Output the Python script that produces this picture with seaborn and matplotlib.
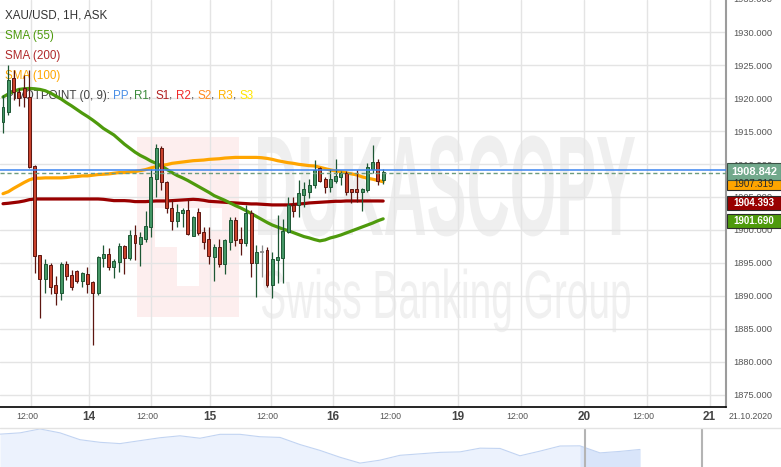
import numpy as np
import pandas as pd
import seaborn as sns
import matplotlib
matplotlib.use("Agg")
import matplotlib.pyplot as plt
from matplotlib.patches import Rectangle, PathPatch
from matplotlib.lines import Line2D
from matplotlib.textpath import TextPath
from matplotlib.font_manager import FontProperties
from matplotlib.transforms import Affine2D, blended_transform_factory
from matplotlib.ticker import FormatStrFormatter

W, H = 781, 467

# hourly XAU/USD candles, 13.10 -> 16.10.2020
opens = [1916.4, 1917.9, 1923.0, 1920.9, 1921.5, 1920.2, 1909.7, 1896.2, 1892.5, 1894.7,
         1891.7, 1890.5, 1894.8, 1893.2, 1893.8, 1892.2, 1893.4, 1892.1, 1890.4, 1895.7,
         1896.4, 1894.4, 1895.2, 1897.6, 1895.7, 1899.2, 1897.9, 1898.7, 1900.5, 1907.7,
         1912.5, 1907.3, 1903.4, 1901.3, 1902.6, 1903.0, 1899.1, 1902.7, 1899.65, 1898.6,
         1895.9, 1897.4, 1894.85, 1898.2, 1901.5, 1898.7, 1898.1, 1902.5, 1894.95, 1896.7,
         1897.0, 1891.7, 1895.45, 1895.7, 1899.75, 1903.8, 1903.8, 1905.3, 1905.8, 1906.8,
         1909.35, 1907.7, 1906.5, 1907.5, 1908.0, 1908.6, 1906.2, 1906.2, 1905.8, 1906.1,
         1909.3, 1910.3, 1907.6]
highs = [1920.4, 1925.0, 1924.2, 1921.5, 1923.5, 1924.2, 1909.8, 1896.2, 1895.6, 1895.0,
         1893.1, 1895.2, 1895.3, 1893.9, 1893.9, 1893.7, 1894.4, 1892.2, 1896.0, 1897.8,
         1897.2, 1895.6, 1898.0, 1897.7, 1900.0, 1900.8, 1899.7, 1902.9, 1909.3, 1913.0,
         1912.7, 1907.4, 1904.5, 1904.0, 1903.4, 1904.65, 1902.1, 1903.3, 1900.5, 1900.4,
         1897.9, 1898.6, 1898.7, 1902.0, 1902.0, 1900.5, 1903.8, 1903.0, 1897.7, 1897.7,
         1897.4, 1896.7, 1902.3, 1901.6, 1905.05, 1905.05, 1907.6, 1907.3, 1907.8, 1910.6,
         1909.5, 1908.1, 1909.2, 1910.7, 1909.0, 1909.0, 1906.2, 1909.1, 1906.3, 1910.2,
         1912.9, 1910.7, 1909.2]
lows = [1914.7, 1917.5, 1919.7, 1918.8, 1918.6, 1909.4, 1893.5, 1886.6, 1890.4, 1890.3,
        1888.7, 1889.4, 1892.4, 1890.9, 1891.9, 1891.4, 1890.4, 1882.6, 1890.2, 1894.4,
        1894.0, 1892.8, 1893.7, 1893.3, 1895.5, 1895.5, 1894.5, 1898.2, 1899.0, 1905.05,
        1906.1, 1902.5, 1900.0, 1900.5, 1900.5, 1899.2, 1899.1, 1899.2, 1897.1, 1894.85,
        1892.2, 1894.4, 1893.3, 1897.0, 1897.6, 1896.2, 1897.5, 1892.9, 1889.9, 1892.9,
        1891.4, 1889.65, 1891.9, 1891.9, 1899.5, 1902.0, 1901.9, 1903.5, 1904.8, 1906.3,
        1907.2, 1905.55, 1905.8, 1907.1, 1906.8, 1905.3, 1904.1, 1904.3, 1902.9, 1905.8,
        1908.7, 1906.8, 1906.9]
closes = [1918.7, 1922.7, 1920.9, 1920.0, 1920.2, 1909.6, 1896.0, 1892.5, 1894.8, 1891.4,
          1890.5, 1894.85, 1893.0, 1891.4, 1892.2, 1893.5, 1891.8, 1890.4, 1895.9, 1896.4,
          1894.4, 1895.3, 1897.6, 1895.7, 1899.2, 1898.1, 1899.0, 1900.6, 1908.0, 1912.5,
          1907.2, 1903.3, 1901.4, 1902.8, 1903.0, 1899.35, 1902.0, 1899.5, 1898.2, 1896.0,
          1897.4, 1894.85, 1898.5, 1901.5, 1898.5, 1898.1, 1902.5, 1894.95, 1896.7, 1896.7,
          1891.7, 1895.55, 1895.95, 1899.85, 1903.8, 1902.9, 1905.55, 1906.2, 1906.8, 1909.1,
          1907.5, 1906.5, 1907.7, 1908.2, 1908.6, 1905.8, 1905.8, 1905.8, 1906.2, 1909.5,
          1910.3, 1907.5, 1908.84]

sma55 = [1920.15, 1920.6, 1921.0, 1921.3, 1921.4, 1921.45, 1921.4, 1921.3, 1921.1, 1920.75,
         1920.3, 1919.85, 1919.3, 1918.8, 1918.25, 1917.7, 1917.2, 1916.65, 1916.05, 1915.4,
         1914.9, 1914.4, 1913.7, 1913.0, 1912.4, 1911.8, 1911.3, 1910.9, 1910.45, 1910.1,
         1909.7, 1909.2, 1908.7, 1908.25, 1907.9, 1907.5, 1907.05, 1906.6, 1906.15, 1905.7,
         1905.2, 1904.85, 1904.5, 1904.1, 1903.7, 1903.35, 1902.95, 1902.5, 1902.05, 1901.6,
         1901.15, 1900.75, 1900.45, 1900.15, 1899.9, 1899.6, 1899.3, 1899.0, 1898.8, 1898.55,
         1898.35, 1898.5, 1898.8, 1899.0, 1899.25, 1899.55, 1899.85, 1900.15, 1900.45, 1900.75,
         1901.05, 1901.4, 1901.69]
sma100 = [1905.5, 1905.8, 1906.3, 1906.75, 1907.2, 1907.6, 1907.85, 1907.85, 1907.9, 1907.9,
          1907.9, 1907.9, 1907.95, 1908.05, 1908.1, 1908.2, 1908.2, 1908.3, 1908.4, 1908.45,
          1908.5, 1908.6, 1908.7, 1908.7, 1908.8, 1908.85, 1909.0, 1909.15, 1909.4, 1909.6,
          1909.8, 1909.9, 1910.1, 1910.2, 1910.3, 1910.4, 1910.5, 1910.55, 1910.6, 1910.7,
          1910.75, 1910.8, 1910.9, 1910.95, 1911.0, 1911.0, 1911.0, 1911.0, 1911.0, 1910.95,
          1910.85, 1910.7, 1910.5, 1910.35, 1910.2, 1910.1, 1909.95, 1909.85, 1909.75, 1909.7,
          1909.5, 1909.3, 1909.1, 1908.95, 1908.85, 1908.65, 1908.5, 1908.35, 1908.05, 1907.85,
          1907.7, 1907.5, 1907.32]
sma200 = [1903.98, 1904.05, 1904.15, 1904.25, 1904.4, 1904.6, 1904.7, 1904.7, 1904.7, 1904.7,
          1904.7, 1904.7, 1904.7, 1904.7, 1904.7, 1904.7, 1904.7, 1904.7, 1904.7, 1904.65,
          1904.55, 1904.45, 1904.45, 1904.45, 1904.4, 1904.3, 1904.3, 1904.3, 1904.35, 1904.4,
          1904.4, 1904.4, 1904.45, 1904.5, 1904.55, 1904.6, 1904.65, 1904.6, 1904.5, 1904.35,
          1904.3, 1904.25, 1904.2, 1904.15, 1904.1, 1904.05, 1904.0, 1903.95, 1903.95, 1903.9,
          1903.85, 1903.8, 1903.8, 1903.8, 1903.8, 1903.85, 1903.95, 1904.0, 1904.1, 1904.15,
          1904.2, 1904.25, 1904.3, 1904.35, 1904.35, 1904.4, 1904.4, 1904.4, 1904.4, 1904.4,
          1904.4, 1904.4, 1904.39]

pivot_pp = 1909.1
ask_line = 1908.7

# price tags on the right axis: value, fill, text colour, weight
tags = [(1901.690, "#4e9a0c", "white", "bold"),
        (1904.393, "#990000", "white", "bold"),
        (1907.319, "#ffa500", "#2a2a2a", "normal"),
        (1908.842, "#72a98c", "white", "bold")]

# x axis: candle-index positions of the time grid
tick_pos = [5.30, 16.21, 28.03, 39.15, 50.76, 62.44, 74.05, 86.12, 98.11, 109.98, 121.97, 133.84]
tick_labels = ["12:00", "14", "12:00", "15", "12:00", "16", "12:00", "19", "12:00", "20", "12:00", "21"]
y_ticks = [1875, 1880, 1885, 1890, 1895, 1900, 1905, 1910, 1915, 1920, 1925, 1930]

# navigator (overview) strip
nav_vals = [1929.1, 1931.8, 1940.0, 1931.8, 1917.4, 1911.9, 1909.2, 1915.4, 1921.5, 1925.6,
            1920.5, 1928.7, 1928.7, 1923.6, 1922.2, 1907.2, 1894.9, 1880.5, 1868.2, 1874.4,
            1884.6, 1887.7, 1890.8, 1891.8, 1899.6, 1899.0, 1883.6, 1893.4, 1904.1, 1904.5,
            1889.7, 1892.8, 1896.9]

sns.set_theme(style="white")
plt.rcParams["font.family"] = ["Liberation Sans", "DejaVu Sans"]

fig = plt.figure(figsize=(W / 100, H / 100), dpi=100)
fig.patch.set_facecolor("white")
ax = fig.add_axes([0, 60 / H, 726 / W, 407 / H])
nav = fig.add_axes([0, 0, 1, 39 / H])

# transform for screen pixels measured from the top-left corner
pxT = Affine2D().scale(1 / W, -1 / H).translate(0, 1) + fig.transFigure

df = pd.DataFrame({"i": np.arange(len(opens)), "open": opens, "high": highs,
                   "low": lows, "close": closes,
                   "sma55": sma55, "sma100": sma100, "sma200": sma200})

ax.set_xlim(-0.57, 136.93)
ax.set_ylim(1873.18, 1934.85)
ax.set_facecolor("white")

# --- watermark -------------------------------------------------------
pink = "#fdeeee"
ax.add_patch(Rectangle((137, 137), 102, 180, transform=pxT, color=pink, lw=0, zorder=0.1))
for (x0, y0, w, h) in [(155, 208, 67, 22), (155, 208, 22, 39), (177, 208, 22, 78)]:
    ax.add_patch(Rectangle((x0, y0), w, h, transform=pxT, color="white", lw=0, zorder=0.15))


def squeezed_text(s, x0, base, width, cap, weight, color):
    fp = FontProperties(family="Liberation Sans", weight=weight)
    tp = TextPath((0, 0), s, size=1, prop=fp)
    bb = tp.get_extents()
    caph = TextPath((0, 0), "B", size=1, prop=fp).get_extents().height
    tf = Affine2D().translate(-bb.x0, 0).scale(width / bb.width, -cap / caph).translate(x0, base)
    ax.add_patch(PathPatch(tp, transform=tf + pxT, color=color, lw=0, zorder=0.2))


squeezed_text("DUKASCOPY", 258, 235, 377, 98, "bold", "#efefef")
squeezed_text("Swiss Banking Group", 262, 318, 368, 47, "normal", "#f0f0f0")

# --- grid / axes -------------------------------------------------------
ax.set_xticks(tick_pos)
ax.set_yticks(y_ticks)
ax.grid(True, color="#e4e4e4", lw=1)
ax.set_axisbelow(True)
ax.tick_params(axis="x", length=0, labelbottom=False)
ax.yaxis.tick_right()
ax.yaxis.set_major_formatter(FormatStrFormatter("%.3f"))
ax.tick_params(axis="y", length=0, pad=5, labelsize=6.7, labelcolor="#555555")
for side in ["top", "left"]:
    ax.spines[side].set_visible(False)
ax.spines["right"].set_color("#9c9c9c")
ax.spines["right"].set_linewidth(1.5)
ax.spines["bottom"].set_color("black")
ax.spines["bottom"].set_linewidth(1.2)

# --- legend texts (under the candles) ---------------------------------
leg_fs = 8.4
ax.text(5, 15.5, "XAU/USD, 1H, ASK", transform=pxT, fontsize=leg_fs, color="#333333",
        va="center", zorder=1)
ax.text(5, 36, "SMA (55)", transform=pxT, fontsize=leg_fs, color="#4e9a0c", va="center", zorder=1)
ax.text(5, 56, "SMA (200)", transform=pxT, fontsize=leg_fs, color="#b02a2a", va="center", zorder=1)
ax.text(5, 76, "SMA (100)", transform=pxT, fontsize=leg_fs, color="#ffa500", va="center", zorder=1)

pieces = [("PIVOTPOINT (0, 9): ", "#444444"), ("PP", "#4a8fe6"), (", ", "#444444"),
          ("R1", "#3c8a3c"), (", ", "#444444"), ("S1", "#b22222"), (", ", "#444444"),
          ("R2", "#f02a2a"), (", ", "#444444"), ("S2", "#ff8a1e"), (", ", "#444444"),
          ("R3", "#ffb400"), (", ", "#444444"), ("S3", "#ffe600")]
renderer = fig.canvas.get_renderer()


def str_width(s):
    t1 = fig.text(0, 0, s + "|", fontsize=leg_fs)
    t2 = fig.text(0, 0, "|", fontsize=leg_fs)
    w = t1.get_window_extent(renderer).width - t2.get_window_extent(renderer).width
    t1.remove()
    t2.remove()
    return w


prefix = ""
for s, c in pieces:
    ax.text(6 + (str_width(prefix) if prefix else 0), 96, s, transform=pxT, fontsize=leg_fs,
            color=c, va="center", zorder=1)
    prefix += s

# --- moving averages ---------------------------------------------------
sns.lineplot(data=df, x="i", y="sma100", color="#ffa500", lw=2.3, ax=ax, zorder=2, legend=False)
sns.lineplot(data=df, x="i", y="sma200", color="#990000", lw=2.3, ax=ax, zorder=2, legend=False)
sns.lineplot(data=df, x="i", y="sma55", color="#4e9a0c", lw=2.3, ax=ax, zorder=2, legend=False)
ax.set_xlabel("")
ax.set_ylabel("")

# --- candles -----------------------------------------------------------
up = df["close"] > df["open"]
down = df["close"] < df["open"]
fill = np.where(up, "#449665", np.where(down, "#c9412c", "#8c8c8c"))
edge = np.where(up, "#1d5734", np.where(down, "#5c1610", "#8c8c8c"))
bottom = np.minimum(df["open"], df["close"])
height = np.maximum((df["close"] - df["open"]).abs(), 0.08)
ax.vlines(df["i"], df["low"], df["high"], colors=edge, lw=0.9, zorder=3)
ax.bar(df["i"], height, bottom=bottom, width=0.56, color=fill, edgecolor=edge,
       linewidth=0.7, zorder=4)

# --- pivot / price lines ----------------------------------------------
ax.axhline(pivot_pp, color="#3d85f0", lw=1.1, zorder=5)
ax.axhline(ask_line, color="#6e9c7e", lw=1.0, ls=(0, (3, 2)), zorder=5)

# --- x labels ------------------------------------------------------------
xtr = blended_transform_factory(ax.transData, ax.transAxes)
for pos, lab in zip(tick_pos, tick_labels):
    if lab == "12:00":
        ax.annotate(lab, xy=(pos, 0), xycoords=xtr, xytext=(-4, -9.7), textcoords="offset pixels",
                    ha="center", va="center", fontsize=6.3, color="#555555", annotation_clip=False)
    else:
        ax.annotate(lab, xy=(pos, 0), xycoords=xtr, xytext=(0, -9.7), textcoords="offset pixels",
                    ha="center", va="center", fontsize=8.5, fontweight="bold", color="#444444",
                    annotation_clip=False)
fig.text(751, 416.7, "21.10.2020", transform=pxT, fontsize=6.3, color="#555555",
         ha="center", va="center")
fig.text(733, -1, "1935.000", transform=pxT, fontsize=6.7, color="#555555", va="center")
fig.add_artist(Line2D([0, W], [427.5, 427.5], transform=pxT, color="#e3e3e3", lw=1))

# --- price tags ----------------------------------------------------------
for val, fc, tc, wt in tags:
    yc = H - ax.transData.transform((0, val))[1]
    big = val == tags[-1][0]
    h = 17 if big else 13.5
    if not big:
        yc += 2
    fig.add_artist(Rectangle((727, yc - h / 2), 54, h, transform=pxT, facecolor=fc,
                             edgecolor="#2c2c2c" if not big else "#3b5246", lw=0.8))
    fig.text(754, yc, f"{val:.3f}", transform=pxT, fontsize=7.9 if big else 7.0, color=tc,
             fontweight=wt, ha="center", va="center")

# --- navigator -----------------------------------------------------------
nav_df = pd.DataFrame({"k": np.arange(len(nav_vals)), "v": nav_vals})
nav.fill_between(nav_df["k"], nav_df["v"], 1850, color="#ecf2fd", lw=0)
sub = nav_df[nav_df["k"] >= 29]
nav.fill_between(sub["k"], sub["v"], 1850, color="#d9e5fa", lw=0)
sns.lineplot(data=nav_df, x="k", y="v", color="#c2d4f2", lw=0.8, ax=nav, legend=False)
nav.axvline(585 / 20, color="#b4b4b4", lw=1.5)
nav.axvline(702 / 20, color="#b4b4b4", lw=1.5)
nav.set_xlim(0, W / 20)
nav.set_ylim(1860, 1942)
nav.set_axis_off()

fig.savefig("out.png", dpi=100)
